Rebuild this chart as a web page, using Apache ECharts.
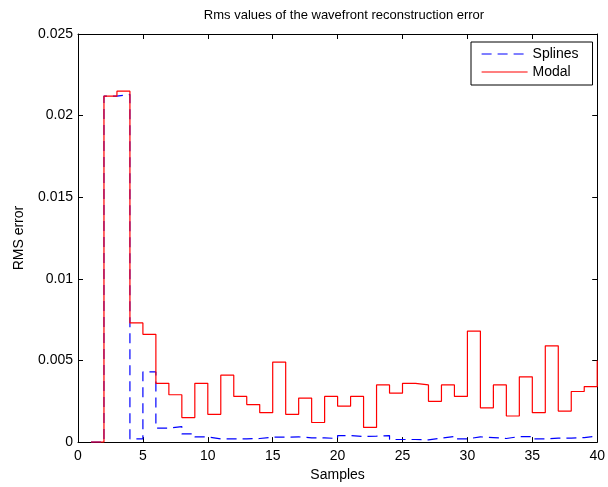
<!DOCTYPE html>
<html>
<head>
<meta charset="utf-8">
<script src="https://cdn.jsdelivr.net/npm/echarts@6/dist/echarts.min.js"></script>
<style>
  html, body { margin: 0; padding: 0; background: #fff; }
  #chart { width: 608px; height: 487px; }
</style>
</head>
<body>
<div id="chart"></div>
<script>
// sample index (x) and rms values
var samples = [1, 2, 3, 4, 5, 6, 7, 8, 9, 10,
               11, 12, 13, 14, 15, 16, 17, 18, 19, 20,
               21, 22, 23, 24, 25, 26, 27, 28, 29, 30,
               31, 32, 33, 34, 35, 36, 37, 38, 39, 40];

var splines = [0, 0.0212, 0.0213, 0.0002, 0.0043, 0.00085, 0.00095, 0.0005, 0.00032, 0.0002,
               0.0002, 0.0002, 0.00022, 0.0003, 0.0003, 0.00032, 0.00026, 0.00026, 0.00022, 0.0004,
               0.00034, 0.00036, 0.0004, 0.00016, 0.00016, 0.00014, 0.00024, 0.00034, 0.0002, 0.00032,
               0.00028, 0.00022, 0.00034, 0.00034, 0.0002, 0.00024, 0.00024, 0.00028, 0.00036, 0.00034];

var modal = [0, 0.0212, 0.0215, 0.0073, 0.0066, 0.0036, 0.0029, 0.0015, 0.0036, 0.0017,
             0.0041, 0.0028, 0.0023, 0.0018, 0.0049, 0.0017, 0.0027, 0.0012, 0.0028, 0.0022,
             0.0028, 0.0009, 0.0035, 0.0030, 0.0036, 0.0035, 0.0025, 0.0035, 0.0028, 0.0068,
             0.0021, 0.0035, 0.0016, 0.0040, 0.0018, 0.0059, 0.0019, 0.0031, 0.0034, 0.0050];

function pairs(ys) {
    var res = [];
    for (var i = 0; i < samples.length; i++) {
        res.push([samples[i], ys[i]]);
    }
    return res;
}

var chart = echarts.init(document.getElementById('chart'));
var font = 'Liberation Sans, Arial, Helvetica, sans-serif';

var axisCommon = {
    axisLine: { show: true, onZero: false, lineStyle: { color: '#000', width: 1 } },
    axisTick: { show: true, inside: true, length: 5, lineStyle: { color: '#000' } },
    splitLine: { show: false }
};

var option = {
    animation: false,
    backgroundColor: '#fff',
    textStyle: { fontFamily: font },
    title: {
        text: 'Rms values of the wavefront reconstruction error',
        left: 339,
        textAlign: 'center',
        top: 4,
        textStyle: { fontSize: 13, fontWeight: 'normal', color: '#000', fontFamily: font }
    },
    legend: {
        orient: 'vertical',
        left: 471,
        top: 42,
        padding: [5, 14, 6, 10],
        itemWidth: 46,
        itemHeight: 14,
        itemGap: 4,
        borderColor: '#000',
        borderWidth: 1,
        backgroundColor: '#fff',
        itemStyle: { opacity: 0 },
        lineStyle: { width: 1.2 },
        textStyle: { fontSize: 14, color: '#000', fontFamily: font },
        data: ['Splines', 'Modal']
    },
    grid: { left: 78, right: 8, top: 34, bottom: 42 },
    xAxis: [
        Object.assign({
            type: 'value', min: 0, max: 40, interval: 5,
            name: 'Samples', nameLocation: 'middle', nameGap: 24,
            nameTextStyle: { fontSize: 14, color: '#000', fontFamily: font },
            axisLabel: { color: '#000', fontSize: 14, margin: 7, fontFamily: font }
        }, axisCommon),
        Object.assign({
            type: 'value', min: 0, max: 40, interval: 5, position: 'top',
            axisLabel: { show: false }
        }, axisCommon)
    ],
    yAxis: [
        Object.assign({
            type: 'value', min: 0, max: 0.025, interval: 0.005,
            name: 'RMS error', nameLocation: 'middle', nameGap: 52,
            nameTextStyle: { fontSize: 14, color: '#000', fontFamily: font },
            axisLabel: { color: '#000', fontSize: 14, margin: 5, fontFamily: font }
        }, axisCommon),
        Object.assign({
            type: 'value', min: 0, max: 0.025, interval: 0.005, position: 'right',
            axisLabel: { show: false }
        }, axisCommon)
    ],
    series: [
        {
            name: 'Splines',
            type: 'line',
            step: 'end',
            symbol: 'none',
            data: pairs(splines),
            itemStyle: { color: '#0000ff' },
            lineStyle: { color: '#0000ff', width: 1.2, type: [10, 6] }
        },
        {
            name: 'Modal',
            type: 'line',
            step: 'end',
            symbol: 'none',
            data: pairs(modal),
            itemStyle: { color: '#ff0000' },
            lineStyle: { color: '#ff0000', width: 1.2 }
        }
    ]
};

chart.setOption(option);
</script>
</body>
</html>
